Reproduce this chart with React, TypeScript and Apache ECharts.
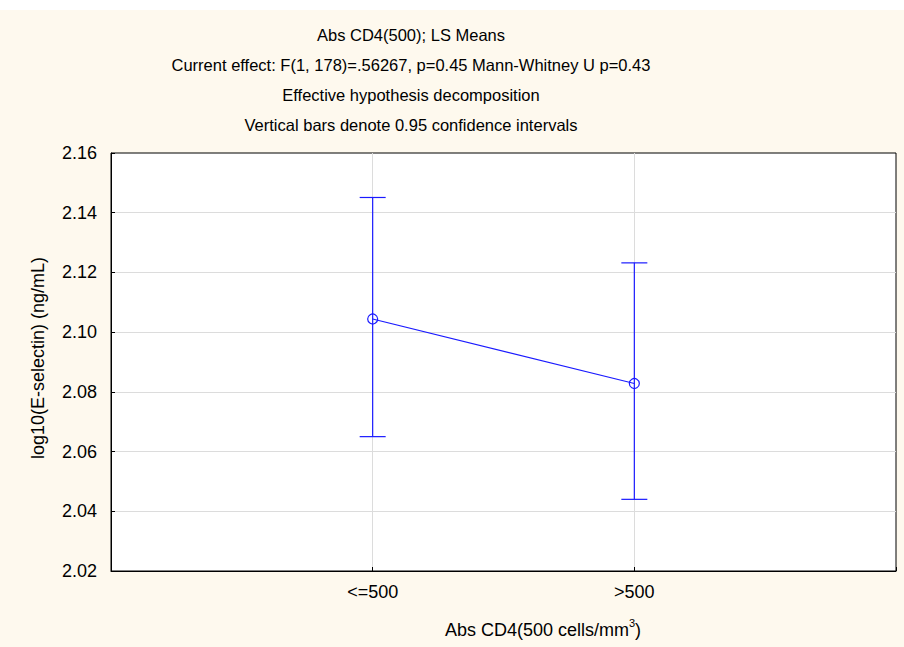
import React, { useEffect, useRef } from "react";
import * as echarts from "echarts";

const categories = ["<=500", ">500"];
const categoryPositions = [1, 2];
const means = [2.1044, 2.0828];
const lowerCI = [2.065, 2.044];
const upperCI = [2.1451, 2.1232];
const yTicks = { min: 2.02, max: 2.16, interval: 0.02 };
const titleLines = [
  "Abs CD4(500); LS Means",
  "Current effect: F(1, 178)=.56267, p=0.45 Mann-Whitney U p=0.43",
  "Effective hypothesis decomposition",
  "Vertical bars denote 0.95 confidence intervals",
];
const xAxisName = "Abs CD4(500 cells/mm";
const yAxisName = "log10(E-selectin) (ng/mL)";

const FONT = "'Liberation Sans', Arial, Helvetica, sans-serif";
const BLUE = "#1a1aff";

export default function App() {
  const ref = useRef<HTMLDivElement>(null);
  useEffect(() => {
    if (!ref.current) return;
    const chart = echarts.init(ref.current, undefined, { renderer: "svg" });
    const lineData = categoryPositions.map((x, i) => [x, means[i]]);
    const errData = categoryPositions.map((x, i) => [x, lowerCI[i], upperCI[i]]);
    const option: any = {
      animation: false,
      backgroundColor: "#fef9ee",
      textStyle: { fontFamily: FONT },
      grid: {
        left: 111,
        right: 8,
        top: 153,
        bottom: 76,
        show: true,
        backgroundColor: "#ffffff",
        borderColor: "#000000",
        borderWidth: 1,
      },
      xAxis: {
        type: "value",
        min: 0,
        max: 3,
        interval: 1,
        axisLine: { show: true, lineStyle: { color: "#000", width: 1 } },
        axisTick: { show: true, inside: true, length: 4, lineStyle: { color: "#000" } },
        axisLabel: {
          color: "#000",
          fontSize: 18,
          fontFamily: FONT,
          margin: 12,
          formatter: (v: number) => {
            const idx = categoryPositions.indexOf(Math.round(v));
            return idx >= 0 ? categories[idx] : "";
          },
        },
        splitLine: {
          show: true,
          showMinLine: false,
          showMaxLine: false,
          lineStyle: { color: "#dcdcdc", width: 1 },
        },
      },
      yAxis: {
        type: "value",
        min: yTicks.min,
        max: yTicks.max,
        interval: yTicks.interval,
        axisLine: { show: true, lineStyle: { color: "#000", width: 1 } },
        axisTick: { show: true, inside: true, length: 4, lineStyle: { color: "#000" } },
        axisLabel: {
          color: "#000",
          fontSize: 18,
          fontFamily: FONT,
          margin: 14,
          formatter: (v: number) => v.toFixed(2),
        },
        splitLine: {
          show: true,
          showMinLine: false,
          showMaxLine: false,
          lineStyle: { color: "#dcdcdc", width: 1 },
        },
      },
      series: [
        {
          type: "custom",
          data: errData,
          z: 3,
          renderItem: (params: any, api: any) => {
            const x = api.value(0);
            const lo = api.coord([x, api.value(1)]);
            const hi = api.coord([x, api.value(2)]);
            const hw = 13;
            const style = { stroke: BLUE, lineWidth: 1.2 };
            return {
              type: "group",
              children: [
                { type: "line", shape: { x1: lo[0], y1: lo[1], x2: hi[0], y2: hi[1] }, style },
                { type: "line", shape: { x1: hi[0] - hw, y1: hi[1], x2: hi[0] + hw, y2: hi[1] }, style },
                { type: "line", shape: { x1: lo[0] - hw, y1: lo[1], x2: lo[0] + hw, y2: lo[1] }, style },
              ],
            };
          },
        },
        {
          type: "line",
          data: lineData,
          z: 4,
          symbol: "circle",
          symbolSize: 10,
          itemStyle: { color: "transparent", borderColor: BLUE, borderWidth: 1.2 },
          lineStyle: { color: BLUE, width: 1.2 },
        },
      ],
      graphic: [
        {
          type: "rect",
          left: 0,
          top: 0,
          shape: { width: 904, height: 10 },
          style: { fill: "#ffffff" },
          silent: true,
        },
        ...titleLines.map((t, i) => ({
          type: "text",
          x: 411,
          y: 35 + i * 30,
          style: {
            text: t,
            fontSize: 16.5,
            fontFamily: FONT,
            fill: "#000",
            textAlign: "center",
            textVerticalAlign: "middle",
          },
        })),
        {
          type: "text",
          x: 38,
          y: 358,
          rotation: Math.PI / 2,
          style: {
            text: yAxisName,
            fontSize: 18,
            fontFamily: FONT,
            fill: "#000",
            textAlign: "center",
            textVerticalAlign: "middle",
          },
        },
        {
          type: "text",
          x: 543,
          y: 628,
          style: {
            text: "{a|" + xAxisName + "}{s|3}{a|)}",
            fontFamily: FONT,
            fill: "#000",
            textAlign: "center",
            textVerticalAlign: "middle",
            rich: {
              a: { fontSize: 18, fontFamily: FONT, fill: "#000", lineHeight: 22, verticalAlign: "bottom" },
              s: { fontSize: 11, fontFamily: FONT, fill: "#000", lineHeight: 22, verticalAlign: "top" },
            },
          },
        },
      ],
    };
    chart.setOption(option);
    return () => chart.dispose();
  }, []);
  return (
    <div
      ref={ref}
      style={{ position: "fixed", left: 0, top: 0, width: 904, height: 647 }}
    />
  );
}
